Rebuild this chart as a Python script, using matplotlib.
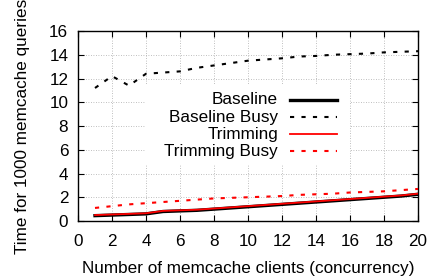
import matplotlib
matplotlib.use('Agg')
import matplotlib.pyplot as plt
import matplotlib.patches

plt.rcParams['font.family'] = ['Liberation Sans', 'DejaVu Sans']
plt.rcParams['font.size'] = 12.3

# values
clients = list(range(1, 21))
baseline = [0.45, 0.5, 0.55, 0.6, 0.8, 0.85, 0.9, 1.0, 1.1, 1.2,
            1.3, 1.4, 1.5, 1.6, 1.7, 1.8, 1.9, 2.0, 2.1, 2.25]
baseline_busy = [11.2, 12.2, 11.4, 12.4, 12.5, 12.6, 12.9, 13.1, 13.3, 13.5,
                 13.6, 13.7, 13.85, 13.9, 14.0, 14.05, 14.1, 14.2, 14.25, 14.3]
trimming = [0.5, 0.55, 0.6, 0.65, 0.85, 0.9, 0.95, 1.05, 1.15, 1.25,
            1.35, 1.45, 1.55, 1.65, 1.75, 1.85, 1.95, 2.05, 2.15, 2.3]
trimming_busy = [1.1, 1.25, 1.4, 1.5, 1.6, 1.7, 1.8, 1.9, 1.95, 2.0,
                 2.05, 2.1, 2.2, 2.25, 2.3, 2.4, 2.45, 2.5, 2.6, 2.7]
xticks = list(range(0, 21, 2))
yticks = list(range(0, 17, 2))

series = [
    ('Baseline', baseline, dict(color='black', lw=2.4, ls='-')),
    ('Baseline Busy', baseline_busy, dict(color='black', lw=1.5, ls=(0, (2, 3.5)))),
    ('Trimming', trimming, dict(color='red', lw=1.3, ls='-')),
    ('Trimming Busy', trimming_busy, dict(color='red', lw=1.5, ls=(0, (2, 3.5)))),
]

fig = plt.figure(figsize=(4.30, 2.76), dpi=100)
ax = fig.add_axes([78 / 430, 1 - 221 / 276, 340 / 430, 190 / 276])

for name, vals, style in series:
    ax.plot(clients, vals, zorder=3, **style)

ax.set_xlim(0, 20)
ax.set_ylim(0, 16)
ax.set_xticks(xticks)
ax.set_yticks(yticks)
ax.tick_params(direction='in', top=True, right=True, length=4.5, width=0.8)
ax.tick_params(axis='y', pad=7)
ax.tick_params(axis='x', pad=9)
for s in ax.spines.values():
    s.set_linewidth(1.0)
ax.grid(True, ls=(0, (1, 2)), color='#aaaaaa', lw=0.6)
ax.set_axisbelow(True)

ax.set_xlabel('Number of memcache clients (concurrency)', labelpad=9)
ax.set_ylabel('Time for 1000 memcache queries', labelpad=14)

# legend drawn by hand, gnuplot style: right-aligned text, sample on the right
ax.add_patch(matplotlib.patches.Rectangle((0.2, 0.3), 0.6, 0.42, transform=ax.transAxes,
                                          facecolor='white', edgecolor='none', zorder=2))
for i, (name, vals, style) in enumerate(series):
    yy = 0.637 - i * 0.09
    ax.text(0.588, yy, name, transform=ax.transAxes, ha='right', va='center', zorder=4)
    ax.plot([0.624, 0.762], [yy, yy], transform=ax.transAxes, zorder=4, **style)

fig.savefig('out.png', dpi=100)
